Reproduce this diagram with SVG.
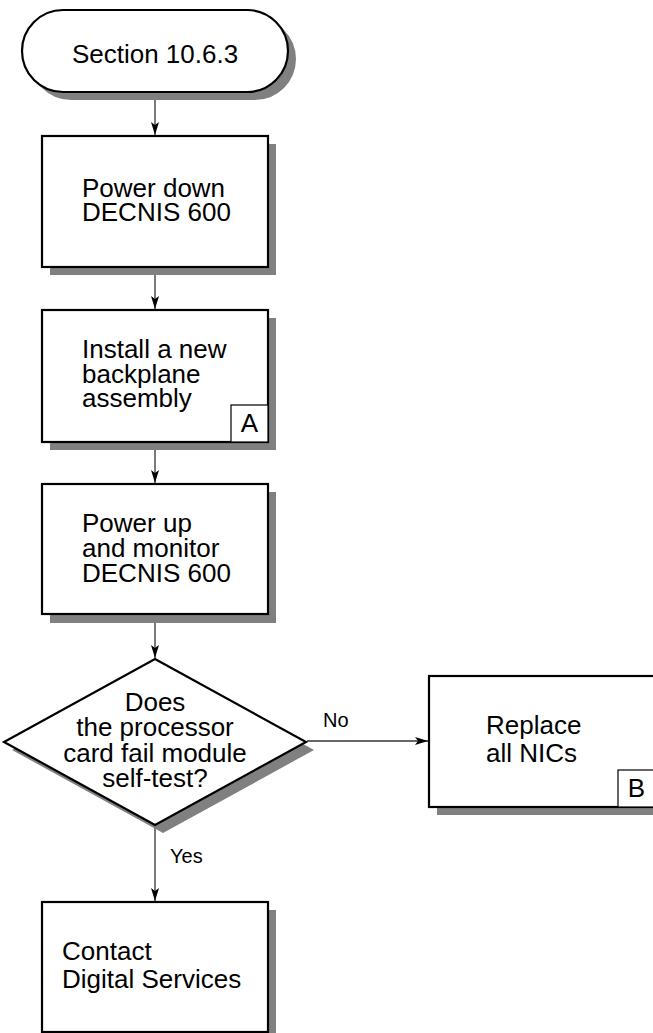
<svg xmlns="http://www.w3.org/2000/svg" width="653" height="1033" viewBox="0 0 653 1033">
<style>
.shadow{fill:#808080;stroke:none}
.node{fill:#fff;stroke:#000;stroke-width:2.2}
.lbl{fill:#fff;stroke:#000;stroke-width:1.2}
.t{font-family:"Liberation Sans",Arial,sans-serif;font-size:26px;fill:#000}
.s{font-family:"Liberation Sans",Arial,sans-serif;font-size:20px;fill:#000}
.c{text-anchor:middle}
.conn{stroke:#333;stroke-width:1.3;fill:none}
</style>
<defs>
<marker id="arr" markerWidth="14" markerHeight="8" refX="13" refY="4" orient="auto" markerUnits="userSpaceOnUse">
<path d="M0,0 L13,4 L0,8 L3,4 Z" fill="#000"/>
</marker>
</defs>
<rect width="653" height="1033" fill="#fff"/>

<g id="connectors">
<line class="conn" x1="155" y1="93" x2="155" y2="135" marker-end="url(#arr)"/>
<line class="conn" x1="155" y1="268" x2="155" y2="309" marker-end="url(#arr)"/>
<line class="conn" x1="155" y1="443" x2="155" y2="483" marker-end="url(#arr)"/>
<line class="conn" x1="155" y1="615" x2="155" y2="658" marker-end="url(#arr)"/>
<line class="conn" x1="155" y1="826" x2="155" y2="901" marker-end="url(#arr)"/>
<line class="conn" x1="307" y1="741" x2="428" y2="741" marker-end="url(#arr)"/>
<text class="s" x="323" y="727">No</text>
<text class="s" x="170" y="863">Yes</text>
</g>

<g id="start">
<rect class="shadow" x="30" y="18" width="266" height="82" rx="41"/>
<rect class="node" x="22" y="10" width="266" height="82" rx="41"/>
<text class="t c" x="155" y="63">Section 10.6.3</text>
</g>

<g id="power-down">
<rect class="shadow" x="50" y="144" width="226" height="131"/>
<rect class="node" x="42" y="136" width="226" height="131"/>
<text class="t" x="82" y="197">Power down</text>
<text class="t" x="82" y="221">DECNIS 600</text>
</g>

<g id="install-backplane">
<rect class="shadow" x="50" y="318" width="226" height="132"/>
<rect class="node" x="42" y="310" width="226" height="132"/>
<text class="t" x="82" y="358">Install a new</text>
<text class="t" x="82" y="383">backplane</text>
<text class="t" x="82" y="407">assembly</text>
<rect class="lbl" x="231" y="405" width="37" height="37"/>
<text class="t c" x="249.5" y="432">A</text>
</g>

<g id="power-up">
<rect class="shadow" x="50" y="492" width="226" height="131"/>
<rect class="node" x="42" y="484" width="226" height="130"/>
<text class="t" x="82" y="532">Power up</text>
<text class="t" x="82" y="557">and monitor</text>
<text class="t" x="82" y="582">DECNIS 600</text>
</g>

<g id="decision">
<polygon class="shadow" points="163,667 314,750 163,833 12,750"/>
<polygon class="node" points="155,659 306,742 155,825 4,742"/>
<text class="t c" x="155" y="711">Does</text>
<text class="t c" x="155" y="736">the processor</text>
<text class="t c" x="155" y="762">card fail module</text>
<text class="t c" x="155" y="787">self-test?</text>
</g>

<g id="replace-nics">
<rect class="shadow" x="437" y="684" width="226" height="131"/>
<rect class="node" x="429" y="676" width="226" height="131"/>
<text class="t" x="486" y="734">Replace</text>
<text class="t" x="486" y="762">all NICs</text>
<rect class="lbl" x="618" y="770" width="37" height="37"/>
<text class="t c" x="636.5" y="797">B</text>
</g>

<g id="contact">
<rect class="shadow" x="50" y="910" width="226" height="131"/>
<rect class="node" x="42" y="902" width="226" height="130"/>
<text class="t" x="62" y="960">Contact</text>
<text class="t" x="62" y="988">Digital Services</text>
</g>
</svg>
